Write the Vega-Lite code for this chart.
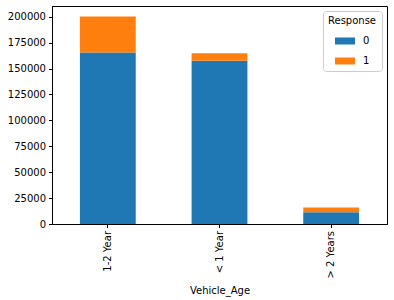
{
  "$schema": "https://vega.github.io/schema/vega-lite/v6.json",
  "autosize": "none",
  "width": 335,
  "height": 218,
  "padding": {"left": 52, "top": 6, "right": 7, "bottom": 76},
  "config": {
    "font": "DejaVu Sans",
    "view": {"stroke": "black", "strokeWidth": 1},
    "axis": {"domainColor": "black", "tickColor": "black", "tickSize": 3.5, "labelFontSize": 10, "labelColor": "black", "titleFontSize": 10, "titleFontWeight": "normal", "titleColor": "black", "grid": false, "labelPadding": 3}
  },
  "data": {"values": [
    {"Vehicle_Age": "1-2 Year", "Response": "0", "count": 165510},
    {"Vehicle_Age": "1-2 Year", "Response": "1", "count": 34806},
    {"Vehicle_Age": "< 1 Year", "Response": "0", "count": 157584},
    {"Vehicle_Age": "< 1 Year", "Response": "1", "count": 7202},
    {"Vehicle_Age": "> 2 Years", "Response": "0", "count": 11305},
    {"Vehicle_Age": "> 2 Years", "Response": "1", "count": 4702}
  ]},
  "mark": {"type": "bar"},
  "encoding": {
    "x": {"field": "Vehicle_Age", "type": "nominal", "sort": null,
      "scale": {"paddingInner": 0.5, "paddingOuter": 0.25},
      "axis": {"labelAngle": -90, "title": "Vehicle_Age", "titlePadding": 8}},
    "y": {"field": "count", "type": "quantitative", "stack": "zero",
      "scale": {"domain": [0, 210332], "nice": false},
      "axis": {"values": [0, 25000, 50000, 75000, 100000, 125000, 150000, 175000, 200000], "format": "d", "title": null}},
    "color": {"field": "Response", "type": "nominal",
      "scale": {"domain": ["0", "1"], "range": ["#1f77b4", "#ff7f0e"]},
      "legend": {"orient": "top-right", "offset": 5, "title": "Response", "titleFontWeight": "normal", "titleFontSize": 10, "titleColor": "black", "titleAnchor": "middle", "labelFontSize": 10, "labelColor": "black", "fillColor": "white", "strokeColor": "#cccccc", "padding": 5, "cornerRadius": 3, "symbolType": "M-1,-0.35h2v0.7h-2z", "symbolSize": 400, "symbolStrokeWidth": 0, "rowPadding": 5, "labelOffset": 8}},
    "order": {"field": "Response", "sort": "ascending"}
  }
}
